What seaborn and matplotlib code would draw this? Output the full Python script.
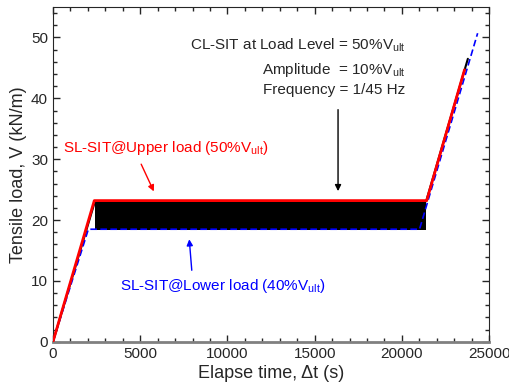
import matplotlib
matplotlib.use("Agg")
import matplotlib.pyplot as plt
import seaborn as sns
import pandas as pd
from matplotlib.ticker import MultipleLocator

# dados
cyc_time = [0, 2410, 21390, 23780]
cyc_load = [0, 23.1, 23.1, 46.5]
band_time = [2410, 21390]
band_low = [18.4, 18.4]
band_high = [23.1, 23.1]
upper_time = [0, 2370, 21420, 23590]
upper_load = [0, 23.2, 23.2, 44.7]
lower_time = [0, 2030, 21010, 24340]
lower_load = [0, 18.5, 18.5, 50.7]

sns.set_style("ticks")
plt.rcParams['font.family'] = ['Liberation Sans', 'DejaVu Sans']
plt.rcParams['mathtext.fontset'] = 'custom'
plt.rcParams['mathtext.rm'] = 'Liberation Sans'
plt.rcParams['xtick.direction'] = 'in'
plt.rcParams['ytick.direction'] = 'in'

fig, ax = plt.subplots(figsize=(5.09, 3.92), dpi=100)
fig.subplots_adjust(left=0.104, right=0.961, bottom=0.128, top=0.982)

cyc = pd.DataFrame({"t": cyc_time, "v": cyc_load})
up = pd.DataFrame({"t": upper_time, "v": upper_load})
lo = pd.DataFrame({"t": lower_time, "v": lower_load})

sns.lineplot(data=cyc, x="t", y="v", sort=False, estimator=None, color="black", lw=1.5, ax=ax, zorder=2)
ax.fill_between(band_time, band_low, band_high, color="black", lw=0, zorder=2)
sns.lineplot(data=lo, x="t", y="v", sort=False, estimator=None, color="blue", lw=1.2, ls=(0, (4, 2)), ax=ax, zorder=3)
sns.lineplot(data=up, x="t", y="v", sort=False, estimator=None, color="red", lw=2, ax=ax, zorder=4)

ax.set_xlim(0, 25000)
ax.set_ylim(0, 55)
ax.xaxis.set_major_locator(MultipleLocator(5000))
ax.xaxis.set_minor_locator(MultipleLocator(1000))
ax.yaxis.set_major_locator(MultipleLocator(10))
ax.yaxis.set_minor_locator(MultipleLocator(2))
ax.tick_params(which="both", top=True, right=True, labelsize=11, width=1)
ax.tick_params(which="major", length=5)
ax.tick_params(which="minor", length=3)
ax.spines["bottom"].set_color("#808080")
ax.spines["bottom"].set_linewidth(2)
ax.set_xlabel("Elapse time, Δt (s)", fontsize=13, labelpad=3)
ax.set_ylabel("Tensile load, V (kN/m)", fontsize=13, labelpad=3)

fs = 11
ax.text(20180, 48.7, r"CL-SIT at Load Level = 50%V$_{\mathregular{ult}}$", ha="right", va="center", fontsize=fs)
ax.text(20180, 44.7, r"Amplitude  = 10%V$_{\mathregular{ult}}$", ha="right", va="center", fontsize=fs)
ax.text(20180, 41.3, "Frequency = 1/45 Hz", ha="right", va="center", fontsize=fs)
ax.annotate("", xy=(16340, 24.3), xytext=(16340, 38.6),
            arrowprops=dict(arrowstyle="-|>", color="black", lw=1, mutation_scale=9))

ax.text(573, 31.9, r"SL-SIT@Upper load (50%V$_{\mathregular{ult}}$)", ha="left", va="center", fontsize=fs, color="red")
ax.annotate("", xy=(5850, 24.3), xytext=(4990, 29.6),
            arrowprops=dict(arrowstyle="-|>", color="red", lw=1, mutation_scale=9))

ax.text(3840, 9.2, r"SL-SIT@Lower load (40%V$_{\mathregular{ult}}$)", ha="left", va="center", fontsize=fs, color="blue")
ax.annotate("", xy=(7800, 17.3), xytext=(7970, 11.3),
            arrowprops=dict(arrowstyle="-|>", color="blue", lw=1, mutation_scale=9))

plt.savefig("out.png")
